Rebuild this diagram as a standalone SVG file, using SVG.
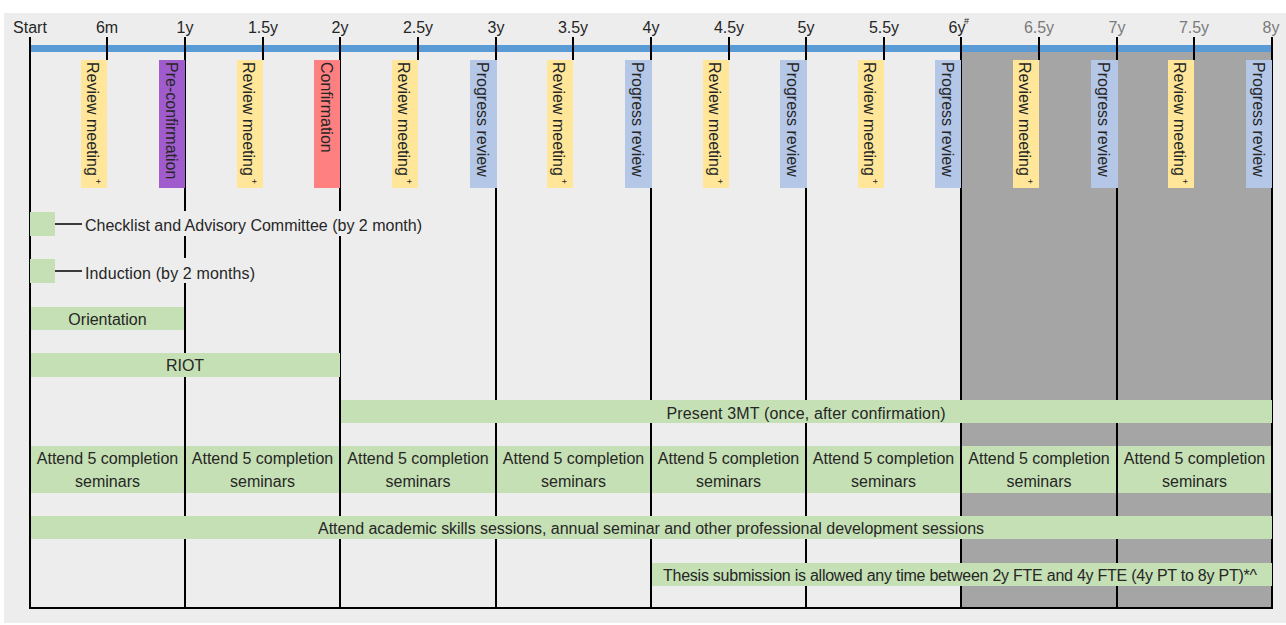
<svg xmlns="http://www.w3.org/2000/svg" width="1286" height="625" viewBox="0 0 1286 625">
  <style>
    text { font-family: "Liberation Sans", Arial, sans-serif; font-size: 16px; fill: #262626; }
    .axis { text-anchor: middle; }
    .later { fill: #7a7a7a; }
    .mid { text-anchor: middle; }
    .rule { stroke: #000; stroke-width: 2; fill: none; }
    .lead { stroke: #000; stroke-width: 1.5; }
    .green { fill: #c5e0b4; }
    .review { fill: #ffe699; }
    .progress { fill: #b4c7e7; }
    .preconf { fill: #a05ccd; }
    .conf { fill: #ff8080; }
    .sup { font-size: 9px; }
  </style>

  <!-- panel -->
  <rect x="4" y="13" width="1282" height="610" fill="#ededed"/>
  <!-- extended period (after 6y) -->
  <rect x="961" y="52" width="311" height="556" fill="#a5a5a5"/>
  <!-- timeline bar -->
  <rect x="30" y="45" width="1242" height="7" fill="#5b9bd5"/>

  <!-- axis labels -->
  <g id="axis-labels">
    <text class="axis" x="30" y="33">Start</text>
    <text class="axis" x="107" y="33">6m</text>
    <text class="axis" x="185" y="33">1y</text>
    <text class="axis" x="263" y="33">1.5y</text>
    <text class="axis" x="340" y="33">2y</text>
    <text class="axis" x="418" y="33">2.5y</text>
    <text class="axis" x="496" y="33">3y</text>
    <text class="axis" x="573" y="33">3.5y</text>
    <text class="axis" x="651" y="33">4y</text>
    <text class="axis" x="729" y="33">4.5y</text>
    <text class="axis" x="806" y="33">5y</text>
    <text class="axis" x="884" y="33">5.5y</text>
    <text class="axis" x="957" y="33">6y</text>
    <text class="sup" x="964" y="24">#</text>
    <text class="axis later" x="1039" y="33">6.5y</text>
    <text class="axis later" x="1117" y="33">7y</text>
    <text class="axis later" x="1194" y="33">7.5y</text>
    <text class="axis later" x="1271" y="33">8y</text>
  </g>

  <!-- grid: year lines, half-year ticks, baseline -->
  <g id="connectors">
    <path class="rule" d="M30 37V609 M185 37V608 M340 37V608 M496 37V608 M651 37V608 M806 37V608 M961 37V608 M1117 37V608 M1272 37V609"/>
    <path class="rule" d="M107 37V60 M263 37V60 M418 37V60 M573 37V60 M729 37V60 M884 37V60 M1039 37V60 M1194 37V60"/>
    <path class="rule" d="M29 608H1273"/>
    <path class="lead" d="M55 224H82 M55 271H82"/>
  </g>

  <!-- milestones -->
  <g id="m-review-6m"><rect class="review" x="81" y="60" width="26" height="128"/>
    <text transform="translate(87,62) rotate(90)">Review meeting<tspan class="sup" dx="3" dy="-8">+</tspan></text></g>
  <g id="m-preconfirmation"><rect class="preconf" x="159" y="60" width="26" height="128"/>
    <text transform="translate(166,62) rotate(90)">Pre-confirmation</text></g>
  <g id="m-review-1-5y"><rect class="review" x="237" y="60" width="26" height="128"/>
    <text transform="translate(243,62) rotate(90)">Review meeting<tspan class="sup" dx="3" dy="-8">+</tspan></text></g>
  <g id="m-confirmation"><rect class="conf" x="314" y="60" width="26" height="128"/>
    <text transform="translate(321,62) rotate(90)">Confirmation</text></g>
  <g id="m-review-2-5y"><rect class="review" x="392" y="60" width="26" height="128"/>
    <text transform="translate(398,62) rotate(90)">Review meeting<tspan class="sup" dx="3" dy="-8">+</tspan></text></g>
  <g id="m-progress-3y"><rect class="progress" x="470" y="60" width="27" height="128"/>
    <text transform="translate(477,62) rotate(90)">Progress review</text></g>
  <g id="m-review-3-5y"><rect class="review" x="547" y="60" width="26" height="128"/>
    <text transform="translate(553,62) rotate(90)">Review meeting<tspan class="sup" dx="3" dy="-8">+</tspan></text></g>
  <g id="m-progress-4y"><rect class="progress" x="625" y="60" width="27" height="128"/>
    <text transform="translate(632,62) rotate(90)">Progress review</text></g>
  <g id="m-review-4-5y"><rect class="review" x="703" y="60" width="26" height="128"/>
    <text transform="translate(709,62) rotate(90)">Review meeting<tspan class="sup" dx="3" dy="-8">+</tspan></text></g>
  <g id="m-progress-5y"><rect class="progress" x="780" y="60" width="27" height="128"/>
    <text transform="translate(787,62) rotate(90)">Progress review</text></g>
  <g id="m-review-5-5y"><rect class="review" x="858" y="60" width="26" height="128"/>
    <text transform="translate(864,62) rotate(90)">Review meeting<tspan class="sup" dx="3" dy="-8">+</tspan></text></g>
  <g id="m-progress-6y"><rect class="progress" x="935" y="60" width="26" height="128"/>
    <text transform="translate(942,62) rotate(90)">Progress review</text></g>
  <g id="m-review-6-5y"><rect class="review" x="1013" y="60" width="26" height="128"/>
    <text transform="translate(1019,62) rotate(90)">Review meeting<tspan class="sup" dx="3" dy="-8">+</tspan></text></g>
  <g id="m-progress-7y"><rect class="progress" x="1091" y="60" width="27" height="128"/>
    <text transform="translate(1098,62) rotate(90)">Progress review</text></g>
  <g id="m-review-7-5y"><rect class="review" x="1168" y="60" width="26" height="128"/>
    <text transform="translate(1174,62) rotate(90)">Review meeting<tspan class="sup" dx="3" dy="-8">+</tspan></text></g>
  <g id="m-progress-8y"><rect class="progress" x="1246" y="60" width="26" height="128"/>
    <text transform="translate(1253,62) rotate(90)">Progress review</text></g>

  <!-- activities -->
  <g id="a-checklist">
    <rect class="green" x="30" y="212" width="25" height="24"/>
    <rect x="83" y="211" width="342" height="25" fill="#ededed"/>
    <text x="85" y="231" textLength="337">Checklist and Advisory Committee (by 2 month)</text>
  </g>
  <g id="a-induction">
    <rect class="green" x="30" y="259" width="25" height="24"/>
    <rect x="83" y="258" width="175" height="25" fill="#ededed"/>
    <text x="85" y="278.5" textLength="170">Induction (by 2 months)</text>
  </g>
  <g id="a-orientation">
    <rect class="green" x="31" y="307" width="153" height="23"/>
    <text class="mid" x="107.5" y="325">Orientation</text>
  </g>
  <g id="a-riot">
    <rect class="green" x="31" y="353" width="309" height="24"/>
    <text class="mid" x="185" y="371">RIOT</text>
  </g>
  <g id="a-3mt">
    <rect class="green" x="341" y="400" width="931" height="23"/>
    <text class="mid" x="806" y="418.5" textLength="279">Present 3MT (once, after confirmation)</text>
  </g>
  <g id="a-seminars">
    <rect class="green" x="31" y="446" width="153" height="47"/>
    <rect class="green" x="186" y="446" width="153" height="47"/>
    <rect class="green" x="341" y="446" width="154" height="47"/>
    <rect class="green" x="497" y="446" width="153" height="47"/>
    <rect class="green" x="652" y="446" width="153" height="47"/>
    <rect class="green" x="807" y="446" width="153" height="47"/>
    <rect class="green" x="962" y="446" width="154" height="47"/>
    <rect class="green" x="1118" y="446" width="153" height="47"/>
    <g class="mid">
      <text class="mid" x="107.5" y="464">Attend 5 completion</text><text class="mid" x="107.5" y="487">seminars</text>
      <text class="mid" x="262.5" y="464">Attend 5 completion</text><text class="mid" x="262.5" y="487">seminars</text>
      <text class="mid" x="418" y="464">Attend 5 completion</text><text class="mid" x="418" y="487">seminars</text>
      <text class="mid" x="573.5" y="464">Attend 5 completion</text><text class="mid" x="573.5" y="487">seminars</text>
      <text class="mid" x="728.5" y="464">Attend 5 completion</text><text class="mid" x="728.5" y="487">seminars</text>
      <text class="mid" x="883.5" y="464">Attend 5 completion</text><text class="mid" x="883.5" y="487">seminars</text>
      <text class="mid" x="1039" y="464">Attend 5 completion</text><text class="mid" x="1039" y="487">seminars</text>
      <text class="mid" x="1194.5" y="464">Attend 5 completion</text><text class="mid" x="1194.5" y="487">seminars</text>
    </g>
  </g>
  <g id="a-skills">
    <rect class="green" x="31" y="516" width="1241" height="23"/>
    <text class="mid" x="651" y="533.5" textLength="666">Attend academic skills sessions, annual seminar and other professional development sessions</text>
  </g>
  <g id="a-thesis">
    <rect class="green" x="652" y="563" width="620" height="23"/>
    <text class="mid" x="960" y="580.5" textLength="594">Thesis submission is allowed any time between 2y FTE and 4y FTE (4y PT to 8y PT)*^</text>
  </g>
</svg>
